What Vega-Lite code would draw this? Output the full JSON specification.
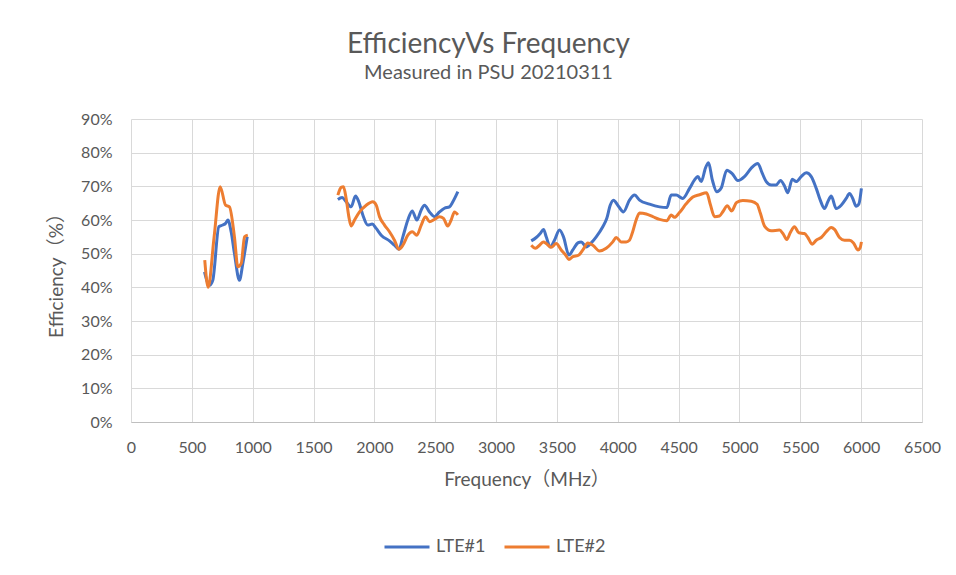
{
  "$schema": "https://vega.github.io/schema/vega-lite/v6.json",
  "width": 791,
  "height": 303,
  "autosize": {"type": "none"},
  "padding": {"left": 131, "top": 119, "right": 34, "bottom": 153},
  "background": "white",
  "title": {
    "text": "EfficiencyVs Frequency",
    "subtitle": "Measured in PSU 20210311",
    "font": "Lato, Noto Sans CJK SC",
    "fontSize": 28,
    "fontWeight": "normal",
    "color": "#595959",
    "subtitleFont": "Lato, Noto Sans CJK SC",
    "subtitleFontSize": 20,
    "subtitleColor": "#595959",
    "subtitlePadding": 4,
    "anchor": "middle",
    "dx": -38,
    "offset": 28
  },
  "config": {
    "view": {"stroke": null},
    "axis": {
      "labelFont": "Lato, Noto Sans CJK SC",
      "titleFont": "Lato, Noto Sans CJK SC",
      "labelColor": "#595959",
      "titleColor": "#595959",
      "labelFontSize": 16,
      "titleFontSize": 19,
      "titleFontWeight": "normal",
      "gridColor": "#D9D9D9",
      "gridWidth": 1,
      "ticks": false
    },
    "legend": {
      "labelFont": "Lato, Noto Sans CJK SC",
      "labelColor": "#595959",
      "labelFontSize": 18
    }
  },
  "data": {
    "values": [
      {"s": "LTE#1", "g": 1, "f": 604, "e": 44.6},
      {"s": "LTE#1", "g": 1, "f": 645, "e": 40.6},
      {"s": "LTE#1", "g": 1, "f": 672, "e": 42.1},
      {"s": "LTE#1", "g": 1, "f": 722, "e": 58.0},
      {"s": "LTE#1", "g": 1, "f": 754, "e": 58.5},
      {"s": "LTE#1", "g": 1, "f": 777, "e": 59.0},
      {"s": "LTE#1", "g": 1, "f": 796, "e": 60.0},
      {"s": "LTE#1", "g": 1, "f": 823, "e": 56.5},
      {"s": "LTE#1", "g": 1, "f": 850, "e": 50.1},
      {"s": "LTE#1", "g": 1, "f": 891, "e": 42.1},
      {"s": "LTE#1", "g": 1, "f": 919, "e": 47.1},
      {"s": "LTE#1", "g": 1, "f": 955, "e": 55.0},
      {"s": "LTE#1", "g": 2, "f": 1700, "e": 66.1},
      {"s": "LTE#1", "g": 2, "f": 1735, "e": 66.7},
      {"s": "LTE#1", "g": 2, "f": 1768, "e": 65.4},
      {"s": "LTE#1", "g": 2, "f": 1809, "e": 63.9},
      {"s": "LTE#1", "g": 2, "f": 1845, "e": 67.1},
      {"s": "LTE#1", "g": 2, "f": 1872, "e": 65.4},
      {"s": "LTE#1", "g": 2, "f": 1905, "e": 61.5},
      {"s": "LTE#1", "g": 2, "f": 1946, "e": 58.5},
      {"s": "LTE#1", "g": 2, "f": 1982, "e": 58.8},
      {"s": "LTE#1", "g": 2, "f": 2015, "e": 57.5},
      {"s": "LTE#1", "g": 2, "f": 2056, "e": 55.5},
      {"s": "LTE#1", "g": 2, "f": 2124, "e": 53.8},
      {"s": "LTE#1", "g": 2, "f": 2165, "e": 52.5},
      {"s": "LTE#1", "g": 2, "f": 2201, "e": 51.3},
      {"s": "LTE#1", "g": 2, "f": 2234, "e": 55.0},
      {"s": "LTE#1", "g": 2, "f": 2275, "e": 60.0},
      {"s": "LTE#1", "g": 2, "f": 2311, "e": 62.7},
      {"s": "LTE#1", "g": 2, "f": 2349, "e": 60.0},
      {"s": "LTE#1", "g": 2, "f": 2385, "e": 63.0},
      {"s": "LTE#1", "g": 2, "f": 2412, "e": 64.4},
      {"s": "LTE#1", "g": 2, "f": 2453, "e": 62.4},
      {"s": "LTE#1", "g": 2, "f": 2494, "e": 61.0},
      {"s": "LTE#1", "g": 2, "f": 2535, "e": 62.4},
      {"s": "LTE#1", "g": 2, "f": 2576, "e": 63.5},
      {"s": "LTE#1", "g": 2, "f": 2617, "e": 63.9},
      {"s": "LTE#1", "g": 2, "f": 2645, "e": 65.4},
      {"s": "LTE#1", "g": 2, "f": 2686, "e": 68.4},
      {"s": "LTE#1", "g": 3, "f": 3289, "e": 53.8},
      {"s": "LTE#1", "g": 3, "f": 3330, "e": 54.8},
      {"s": "LTE#1", "g": 3, "f": 3363, "e": 56.0},
      {"s": "LTE#1", "g": 3, "f": 3390, "e": 57.2},
      {"s": "LTE#1", "g": 3, "f": 3412, "e": 55.0},
      {"s": "LTE#1", "g": 3, "f": 3445, "e": 52.0},
      {"s": "LTE#1", "g": 3, "f": 3480, "e": 54.0},
      {"s": "LTE#1", "g": 3, "f": 3521, "e": 57.0},
      {"s": "LTE#1", "g": 3, "f": 3554, "e": 55.0},
      {"s": "LTE#1", "g": 3, "f": 3598, "e": 49.6},
      {"s": "LTE#1", "g": 3, "f": 3631, "e": 51.1},
      {"s": "LTE#1", "g": 3, "f": 3672, "e": 53.2},
      {"s": "LTE#1", "g": 3, "f": 3700, "e": 53.5},
      {"s": "LTE#1", "g": 3, "f": 3741, "e": 52.0},
      {"s": "LTE#1", "g": 3, "f": 3782, "e": 53.2},
      {"s": "LTE#1", "g": 3, "f": 3823, "e": 55.0},
      {"s": "LTE#1", "g": 3, "f": 3877, "e": 58.0},
      {"s": "LTE#1", "g": 3, "f": 3910, "e": 60.5},
      {"s": "LTE#1", "g": 3, "f": 3938, "e": 64.4},
      {"s": "LTE#1", "g": 3, "f": 3965, "e": 65.9},
      {"s": "LTE#1", "g": 3, "f": 4000, "e": 64.4},
      {"s": "LTE#1", "g": 3, "f": 4047, "e": 62.4},
      {"s": "LTE#1", "g": 3, "f": 4096, "e": 65.9},
      {"s": "LTE#1", "g": 3, "f": 4138, "e": 67.4},
      {"s": "LTE#1", "g": 3, "f": 4179, "e": 65.9},
      {"s": "LTE#1", "g": 3, "f": 4261, "e": 64.7},
      {"s": "LTE#1", "g": 3, "f": 4343, "e": 63.9},
      {"s": "LTE#1", "g": 3, "f": 4403, "e": 63.7},
      {"s": "LTE#1", "g": 3, "f": 4439, "e": 67.4},
      {"s": "LTE#1", "g": 3, "f": 4480, "e": 67.4},
      {"s": "LTE#1", "g": 3, "f": 4534, "e": 66.4},
      {"s": "LTE#1", "g": 3, "f": 4590, "e": 69.4},
      {"s": "LTE#1", "g": 3, "f": 4631, "e": 71.9},
      {"s": "LTE#1", "g": 3, "f": 4658, "e": 72.9},
      {"s": "LTE#1", "g": 3, "f": 4686, "e": 71.4},
      {"s": "LTE#1", "g": 3, "f": 4721, "e": 75.5},
      {"s": "LTE#1", "g": 3, "f": 4746, "e": 77.0},
      {"s": "LTE#1", "g": 3, "f": 4777, "e": 71.9},
      {"s": "LTE#1", "g": 3, "f": 4814, "e": 68.4},
      {"s": "LTE#1", "g": 3, "f": 4850, "e": 69.5},
      {"s": "LTE#1", "g": 3, "f": 4896, "e": 74.8},
      {"s": "LTE#1", "g": 3, "f": 4940, "e": 73.8},
      {"s": "LTE#1", "g": 3, "f": 4987, "e": 71.7},
      {"s": "LTE#1", "g": 3, "f": 5041, "e": 72.9},
      {"s": "LTE#1", "g": 3, "f": 5097, "e": 75.4},
      {"s": "LTE#1", "g": 3, "f": 5151, "e": 76.8},
      {"s": "LTE#1", "g": 3, "f": 5187, "e": 73.9},
      {"s": "LTE#1", "g": 3, "f": 5220, "e": 71.4},
      {"s": "LTE#1", "g": 3, "f": 5261, "e": 70.4},
      {"s": "LTE#1", "g": 3, "f": 5302, "e": 70.4},
      {"s": "LTE#1", "g": 3, "f": 5337, "e": 71.7},
      {"s": "LTE#1", "g": 3, "f": 5370, "e": 70.1},
      {"s": "LTE#1", "g": 3, "f": 5397, "e": 68.1},
      {"s": "LTE#1", "g": 3, "f": 5434, "e": 72.1},
      {"s": "LTE#1", "g": 3, "f": 5466, "e": 71.4},
      {"s": "LTE#1", "g": 3, "f": 5507, "e": 72.9},
      {"s": "LTE#1", "g": 3, "f": 5549, "e": 74.0},
      {"s": "LTE#1", "g": 3, "f": 5590, "e": 72.9},
      {"s": "LTE#1", "g": 3, "f": 5631, "e": 69.4},
      {"s": "LTE#1", "g": 3, "f": 5664, "e": 65.9},
      {"s": "LTE#1", "g": 3, "f": 5699, "e": 63.4},
      {"s": "LTE#1", "g": 3, "f": 5726, "e": 65.4},
      {"s": "LTE#1", "g": 3, "f": 5754, "e": 67.1},
      {"s": "LTE#1", "g": 3, "f": 5795, "e": 63.4},
      {"s": "LTE#1", "g": 3, "f": 5836, "e": 64.4},
      {"s": "LTE#1", "g": 3, "f": 5877, "e": 66.4},
      {"s": "LTE#1", "g": 3, "f": 5904, "e": 67.9},
      {"s": "LTE#1", "g": 3, "f": 5931, "e": 66.4},
      {"s": "LTE#1", "g": 3, "f": 5959, "e": 64.1},
      {"s": "LTE#1", "g": 3, "f": 5981, "e": 64.7},
      {"s": "LTE#1", "g": 3, "f": 6002, "e": 69.4},
      {"s": "LTE#2", "g": 1, "f": 606, "e": 48.1},
      {"s": "LTE#2", "g": 1, "f": 634, "e": 40.0},
      {"s": "LTE#2", "g": 1, "f": 683, "e": 55.0},
      {"s": "LTE#2", "g": 1, "f": 733, "e": 69.9},
      {"s": "LTE#2", "g": 1, "f": 777, "e": 64.4},
      {"s": "LTE#2", "g": 1, "f": 809, "e": 63.9},
      {"s": "LTE#2", "g": 1, "f": 850, "e": 55.0},
      {"s": "LTE#2", "g": 1, "f": 878, "e": 46.1},
      {"s": "LTE#2", "g": 1, "f": 906, "e": 47.1},
      {"s": "LTE#2", "g": 1, "f": 933, "e": 55.0},
      {"s": "LTE#2", "g": 1, "f": 960, "e": 55.5},
      {"s": "LTE#2", "g": 2, "f": 1700, "e": 67.4},
      {"s": "LTE#2", "g": 2, "f": 1727, "e": 69.7},
      {"s": "LTE#2", "g": 2, "f": 1746, "e": 69.9},
      {"s": "LTE#2", "g": 2, "f": 1768, "e": 66.4},
      {"s": "LTE#2", "g": 2, "f": 1790, "e": 61.0},
      {"s": "LTE#2", "g": 2, "f": 1809, "e": 58.2},
      {"s": "LTE#2", "g": 2, "f": 1837, "e": 60.0},
      {"s": "LTE#2", "g": 2, "f": 1878, "e": 62.4},
      {"s": "LTE#2", "g": 2, "f": 1933, "e": 64.4},
      {"s": "LTE#2", "g": 2, "f": 1987, "e": 65.4},
      {"s": "LTE#2", "g": 2, "f": 2015, "e": 64.4},
      {"s": "LTE#2", "g": 2, "f": 2042, "e": 61.0},
      {"s": "LTE#2", "g": 2, "f": 2083, "e": 58.5},
      {"s": "LTE#2", "g": 2, "f": 2124, "e": 56.5},
      {"s": "LTE#2", "g": 2, "f": 2165, "e": 54.0},
      {"s": "LTE#2", "g": 2, "f": 2201, "e": 51.3},
      {"s": "LTE#2", "g": 2, "f": 2234, "e": 52.5},
      {"s": "LTE#2", "g": 2, "f": 2275, "e": 55.5},
      {"s": "LTE#2", "g": 2, "f": 2311, "e": 56.5},
      {"s": "LTE#2", "g": 2, "f": 2349, "e": 55.5},
      {"s": "LTE#2", "g": 2, "f": 2385, "e": 58.5},
      {"s": "LTE#2", "g": 2, "f": 2420, "e": 61.0},
      {"s": "LTE#2", "g": 2, "f": 2453, "e": 59.5},
      {"s": "LTE#2", "g": 2, "f": 2494, "e": 60.2},
      {"s": "LTE#2", "g": 2, "f": 2535, "e": 61.0},
      {"s": "LTE#2", "g": 2, "f": 2568, "e": 60.5},
      {"s": "LTE#2", "g": 2, "f": 2603, "e": 58.2},
      {"s": "LTE#2", "g": 2, "f": 2631, "e": 60.0},
      {"s": "LTE#2", "g": 2, "f": 2658, "e": 62.4},
      {"s": "LTE#2", "g": 2, "f": 2686, "e": 61.5},
      {"s": "LTE#2", "g": 3, "f": 3289, "e": 52.5},
      {"s": "LTE#2", "g": 3, "f": 3324, "e": 51.6},
      {"s": "LTE#2", "g": 3, "f": 3357, "e": 52.5},
      {"s": "LTE#2", "g": 3, "f": 3390, "e": 53.5},
      {"s": "LTE#2", "g": 3, "f": 3412, "e": 53.0},
      {"s": "LTE#2", "g": 3, "f": 3453, "e": 51.9},
      {"s": "LTE#2", "g": 3, "f": 3494, "e": 53.0},
      {"s": "LTE#2", "g": 3, "f": 3535, "e": 51.1},
      {"s": "LTE#2", "g": 3, "f": 3571, "e": 49.6},
      {"s": "LTE#2", "g": 3, "f": 3598, "e": 48.3},
      {"s": "LTE#2", "g": 3, "f": 3631, "e": 49.1},
      {"s": "LTE#2", "g": 3, "f": 3680, "e": 49.6},
      {"s": "LTE#2", "g": 3, "f": 3713, "e": 51.1},
      {"s": "LTE#2", "g": 3, "f": 3754, "e": 53.2},
      {"s": "LTE#2", "g": 3, "f": 3795, "e": 52.5},
      {"s": "LTE#2", "g": 3, "f": 3850, "e": 50.8},
      {"s": "LTE#2", "g": 3, "f": 3905, "e": 51.6},
      {"s": "LTE#2", "g": 3, "f": 3959, "e": 53.5},
      {"s": "LTE#2", "g": 3, "f": 3987, "e": 54.8},
      {"s": "LTE#2", "g": 3, "f": 4028, "e": 53.5},
      {"s": "LTE#2", "g": 3, "f": 4069, "e": 53.5},
      {"s": "LTE#2", "g": 3, "f": 4096, "e": 54.0},
      {"s": "LTE#2", "g": 3, "f": 4118, "e": 56.0},
      {"s": "LTE#2", "g": 3, "f": 4151, "e": 60.0},
      {"s": "LTE#2", "g": 3, "f": 4179, "e": 62.1},
      {"s": "LTE#2", "g": 3, "f": 4234, "e": 61.8},
      {"s": "LTE#2", "g": 3, "f": 4288, "e": 61.0},
      {"s": "LTE#2", "g": 3, "f": 4343, "e": 60.2},
      {"s": "LTE#2", "g": 3, "f": 4403, "e": 59.8},
      {"s": "LTE#2", "g": 3, "f": 4439, "e": 61.5},
      {"s": "LTE#2", "g": 3, "f": 4466, "e": 60.8},
      {"s": "LTE#2", "g": 3, "f": 4507, "e": 62.2},
      {"s": "LTE#2", "g": 3, "f": 4562, "e": 64.8},
      {"s": "LTE#2", "g": 3, "f": 4617, "e": 66.8},
      {"s": "LTE#2", "g": 3, "f": 4672, "e": 67.5},
      {"s": "LTE#2", "g": 3, "f": 4730, "e": 68.1},
      {"s": "LTE#2", "g": 3, "f": 4760, "e": 64.7},
      {"s": "LTE#2", "g": 3, "f": 4795, "e": 61.0},
      {"s": "LTE#2", "g": 3, "f": 4836, "e": 61.2},
      {"s": "LTE#2", "g": 3, "f": 4866, "e": 62.6},
      {"s": "LTE#2", "g": 3, "f": 4900, "e": 64.2},
      {"s": "LTE#2", "g": 3, "f": 4936, "e": 62.7},
      {"s": "LTE#2", "g": 3, "f": 4976, "e": 65.2},
      {"s": "LTE#2", "g": 3, "f": 5028, "e": 65.8},
      {"s": "LTE#2", "g": 3, "f": 5097, "e": 65.6},
      {"s": "LTE#2", "g": 3, "f": 5145, "e": 64.7},
      {"s": "LTE#2", "g": 3, "f": 5172, "e": 62.0},
      {"s": "LTE#2", "g": 3, "f": 5206, "e": 58.2},
      {"s": "LTE#2", "g": 3, "f": 5261, "e": 56.8},
      {"s": "LTE#2", "g": 3, "f": 5329, "e": 57.0},
      {"s": "LTE#2", "g": 3, "f": 5357, "e": 56.0},
      {"s": "LTE#2", "g": 3, "f": 5389, "e": 54.2},
      {"s": "LTE#2", "g": 3, "f": 5417, "e": 56.2},
      {"s": "LTE#2", "g": 3, "f": 5452, "e": 58.0},
      {"s": "LTE#2", "g": 3, "f": 5488, "e": 56.2},
      {"s": "LTE#2", "g": 3, "f": 5534, "e": 56.0},
      {"s": "LTE#2", "g": 3, "f": 5562, "e": 54.8},
      {"s": "LTE#2", "g": 3, "f": 5597, "e": 52.8},
      {"s": "LTE#2", "g": 3, "f": 5631, "e": 54.0},
      {"s": "LTE#2", "g": 3, "f": 5672, "e": 54.8},
      {"s": "LTE#2", "g": 3, "f": 5713, "e": 56.5},
      {"s": "LTE#2", "g": 3, "f": 5754, "e": 57.8},
      {"s": "LTE#2", "g": 3, "f": 5781, "e": 57.2},
      {"s": "LTE#2", "g": 3, "f": 5822, "e": 54.8},
      {"s": "LTE#2", "g": 3, "f": 5863, "e": 54.0},
      {"s": "LTE#2", "g": 3, "f": 5904, "e": 54.0},
      {"s": "LTE#2", "g": 3, "f": 5937, "e": 53.2},
      {"s": "LTE#2", "g": 3, "f": 5973, "e": 51.1},
      {"s": "LTE#2", "g": 3, "f": 5993, "e": 51.9},
      {"s": "LTE#2", "g": 3, "f": 6002, "e": 53.5}
    ]
  },
  "mark": {"type": "line", "interpolate": "monotone", "strokeWidth": 3},
  "encoding": {
    "x": {
      "field": "f",
      "type": "quantitative",
      "scale": {"domain": [0, 6500], "nice": false},
      "axis": {
        "values": [0, 500, 1000, 1500, 2000, 2500, 3000, 3500, 4000, 4500, 5000, 5500, 6000, 6500],
        "format": "d",
        "title": "Frequency（MHz）",
        "labelFlush": false,
        "labelPadding": 17,
        "titlePadding": 15,
        "domainColor": "#BFBFBF",
        "domainWidth": 1
      }
    },
    "y": {
      "field": "e",
      "type": "quantitative",
      "scale": {"domain": [0, 90], "nice": false},
      "axis": {
        "values": [0, 10, 20, 30, 40, 50, 60, 70, 80, 90],
        "labelExpr": "datum.value + '%'",
        "title": "Efficiency（%）",
        "labelPadding": 19,
        "titlePadding": 14,
        "domain": false
      }
    },
    "color": {
      "field": "s",
      "type": "nominal",
      "scale": {"domain": ["LTE#1", "LTE#2"], "range": ["#4472C4", "#ED7D31"]},
      "legend": {
        "title": null,
        "orient": "none",
        "direction": "horizontal",
        "legendX": 252,
        "legendY": 404,
        "symbolType": "stroke",
        "symbolSize": 2025,
        "symbolStrokeWidth": 3,
        "columnPadding": 12,
        "labelOffset": 5
      }
    },
    "detail": {"field": "g", "type": "nominal"}
  }
}
